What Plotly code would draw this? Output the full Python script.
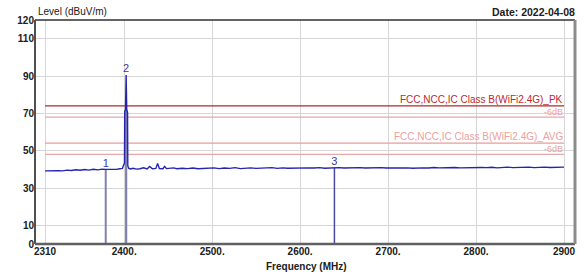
import plotly.graph_objects as go

# ---- data ----
freq_mhz = [2310, 2315, 2320, 2325, 2330, 2335, 2340, 2345, 2350, 2355, 2360, 2365, 2370, 2375,
            2379, 2383, 2387, 2391, 2395, 2398, 2399.5, 2400.3, 2400.6, 2401.5, 2402.2, 2402.9,
            2403.8, 2404.1, 2405, 2407, 2410, 2414, 2418, 2422, 2426, 2429, 2432, 2436, 2438,
            2440, 2444, 2446, 2448, 2452, 2456, 2460, 2466, 2472, 2478, 2484, 2490, 2496, 2502,
            2508, 2514, 2520, 2526, 2532, 2538, 2544, 2550, 2556, 2562, 2568, 2574, 2580, 2586,
            2592, 2598, 2604, 2610, 2616, 2622, 2628, 2634, 2639, 2644, 2650, 2656, 2662, 2668,
            2674, 2680, 2686, 2692, 2698, 2704, 2710, 2716, 2722, 2728, 2734, 2740, 2746, 2752,
            2758, 2764, 2770, 2776, 2782, 2788, 2794, 2800, 2806, 2812, 2818, 2824, 2830, 2836,
            2842, 2848, 2854, 2860, 2866, 2872, 2878, 2884, 2890, 2896, 2900]
level_dbuv = [39.2, 39.3, 39.1, 39.3, 39.2, 39.6, 39.4, 39.8, 39.5, 39.9, 39.6, 40.0, 39.7, 40.1,
              40.0, 39.9, 40.2, 40.0, 40.3, 40.5, 42.5, 43.0, 71.0, 72.0, 90.5, 72.0,
              70.5, 42.0, 40.6, 40.2, 40.6, 40.1, 40.3, 40.8, 40.2, 41.5, 40.3, 40.5, 43.2,
              40.4, 40.3, 41.6, 40.4, 40.5, 40.8, 40.3, 40.6, 40.4, 40.7, 40.3, 40.6, 40.5, 40.8,
              40.4, 40.7, 40.5, 40.9, 40.4, 40.6, 40.8, 40.5, 40.7, 40.6, 40.9, 40.5, 40.8, 40.6,
              40.7, 40.9, 40.6, 40.8, 40.7, 40.9, 40.6, 40.8, 40.8, 40.9, 40.7, 40.8, 40.6, 40.9,
              40.7, 40.8, 40.6, 40.9, 40.7, 40.8, 40.9, 40.7, 40.8, 40.6, 40.9, 40.8, 40.7, 41.0,
              40.8, 40.9, 40.7, 41.0, 40.8, 40.9, 41.1, 40.8, 41.0, 40.9, 41.1, 40.8, 41.0, 41.2,
              40.9, 41.1, 41.0, 41.2, 40.9, 41.1, 41.2, 41.0, 41.2, 41.1, 41.2]

marker_labels = ["1", "2", "3"]
marker_freq = [2379, 2402.2, 2639]
marker_level = [40.0, 90.5, 40.8]

limit_names = ["FCC,NCC,IC Class B(WiFi2.4G)_PK", "-6dB", "FCC,NCC,IC Class B(WiFi2.4G)_AVG", "-6dB"]
limit_values = [74, 68, 54, 48]

x_tick_vals = [2310, 2400, 2500, 2600, 2700, 2800, 2900]
x_tick_text = ["2310", "2400.", "2500.", "2600.", "2700.", "2800.", "2900"]
y_tick_vals = [0, 10, 30, 50, 70, 90, 110, 120]
y_tick_text = ["0", "10", "30", "50", "70", "90", "110", "120"]

x_start, x_stop = 2310, 2900
x_range = [2298.6, 2912.5]
y_range = [0, 120]

FONT = "Arial, Liberation Sans, sans-serif"

fig = go.Figure()

# limit lines
limit_colors = ["#b02a2a", "#e6a8a8", "#ec9a9a", "#e6a8a8"]
for val, col in zip(limit_values, limit_colors):
    fig.add_trace(go.Scatter(x=[x_start, x_stop], y=[val, val], mode="lines",
                             line=dict(color=col, width=1.2), hoverinfo="skip", showlegend=False))

# marker vertical lines
marker_colors = ["#8080b4", "#8080b4", "#4a4aa0"]
marker_widths = [2, 2.2, 1.5]
for f, lv, col, w in zip(marker_freq, marker_level, marker_colors, marker_widths):
    fig.add_trace(go.Scatter(x=[f, f], y=[0, min(lv, 72)], mode="lines",
                             line=dict(color=col, width=w), hoverinfo="skip", showlegend=False))

# spectrum trace
fig.add_trace(go.Scatter(x=freq_mhz, y=level_dbuv, mode="lines",
                         line=dict(color="#2424b0", width=1.4), showlegend=False))

# marker labels
fig.add_trace(go.Scatter(x=marker_freq, y=marker_level, mode="text", text=marker_labels,
                         textposition="top center",
                         textfont=dict(family=FONT, size=11, color="#3a3aa0"),
                         showlegend=False, hoverinfo="skip"))

# limit labels
label_colors = ["#c0282d", "#eba3a3", "#eda0a0", "#eba3a3"]
label_sizes = [10, 9, 10, 9]
label_anchor = ["bottom", "top", "bottom", "top"]
label_yref_val = [74, 74, 54, 54]
for name, yv, col, sz, anc in zip(limit_names, label_yref_val, label_colors, label_sizes, label_anchor):
    fig.add_annotation(x=x_stop, y=yv, xref="x", yref="y", text=name, showarrow=False,
                       xanchor="right", yanchor=anc,
                       font=dict(family=FONT, size=sz, color=col), borderpad=0)

# frame shapes
fig.add_shape(type="line", xref="paper", yref="paper", x0=0, x1=1, y0=1, y1=1,
              line=dict(color="#303030", width=1.5))
fig.add_shape(type="line", xref="paper", yref="paper", x0=0, x1=0, y0=0, y1=1,
              line=dict(color="#505050", width=2))
fig.add_shape(type="line", xref="paper", yref="paper", x0=0, x1=1, y0=0, y1=0,
              line=dict(color="#606060", width=2.5))
fig.add_shape(type="line", xref="paper", yref="paper", x0=1, x1=1, y0=0, y1=1,
              line=dict(color="#8c8c8c", width=3))

# titles
fig.add_annotation(x=(36 - 35) / 540, y=(244 - 12) / 224, xref="paper", yref="paper",
                   text="Level (dBuV/m)", showarrow=False, xanchor="left", yanchor="middle",
                   font=dict(family=FONT, size=10, color="#202020"))
fig.add_annotation(x=(577 - 35) / 540, y=(244 - 12) / 224, xref="paper", yref="paper",
                   text="<b>Date: 2022-04-08</b>", showarrow=False, xanchor="right", yanchor="middle",
                   font=dict(family=FONT, size=10.5, color="#202020"))
fig.add_annotation(x=(306 - 35) / 540, y=(244 - 266) / 224, xref="paper", yref="paper",
                   text="<b>Frequency (MHz)</b>", showarrow=False, xanchor="center", yanchor="middle",
                   font=dict(family=FONT, size=10, color="#202020"))

fig.update_xaxes(range=x_range, tickvals=x_tick_vals, ticktext=x_tick_text,
                 showgrid=True, gridcolor="#d6d6d6", gridwidth=1, zeroline=False,
                 showline=False, ticks="", tickfont=dict(family=FONT, size=10, color="#202020",
                                                          weight="bold"))
fig.update_yaxes(range=y_range, tickvals=y_tick_vals, ticktext=y_tick_text,
                 showgrid=True, gridcolor="#d6d6d6", gridwidth=1, zeroline=False,
                 showline=False, ticks="", tickfont=dict(family=FONT, size=10, color="#202020",
                                                          weight="bold"))

fig.update_layout(width=587, height=275, margin=dict(l=35, r=12, t=20, b=31),
                  plot_bgcolor="white", paper_bgcolor="white", showlegend=False)

fig.write_html("out.html", config={"displayModeBar": False},
               post_script="document.body.style.margin='0';document.body.style.overflow='hidden';")
